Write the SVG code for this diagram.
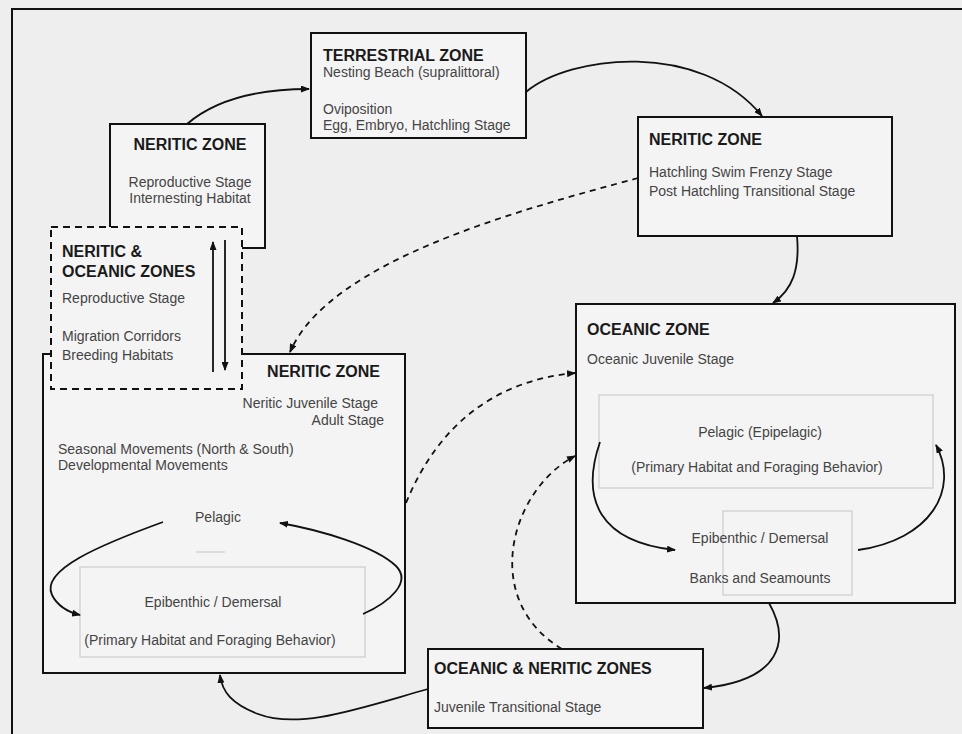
<svg xmlns="http://www.w3.org/2000/svg" width="962" height="734" viewBox="0 0 962 734">
<defs>
<marker id="ah" markerWidth="9" markerHeight="7" refX="8" refY="3.5" orient="auto" markerUnits="userSpaceOnUse">
<path d="M0,0 L9,3.5 L0,7 Z" fill="#111"/>
</marker>
<style>
.box{fill:#f4f4f4;stroke:#111;stroke-width:2}
.dbox{fill:#f4f4f4;stroke:#111;stroke-width:2;stroke-dasharray:7,5}
.faint{fill:none;stroke:#d0d0d0;stroke-width:1.3}
.t{font-family:"Liberation Sans",Arial,sans-serif;font-size:16px;font-weight:bold;fill:#1a1a1a}
.s{font-family:"Liberation Sans",Arial,sans-serif;font-size:14px;fill:#444}
.c{fill:none;stroke:#111;stroke-width:1.8}
.d{fill:none;stroke:#111;stroke-width:1.8;stroke-dasharray:6,5}
</style>
</defs>
<rect x="0" y="0" width="962" height="734" fill="#eeeeee"/>
<path d="M12,734 V9 H962" fill="none" stroke="#111" stroke-width="2"/>

<g id="terrestrial">
<rect class="box" x="311" y="33" width="215" height="105"/>
<text class="t" x="323" y="61">TERRESTRIAL ZONE</text>
<text class="s" x="323" y="77">Nesting Beach (supralittoral)</text>
<text class="s" x="323" y="114">Oviposition</text>
<text class="s" x="323" y="130">Egg, Embryo, Hatchling Stage</text>
</g>

<g id="neritic-top-right">
<rect class="box" x="638" y="117" width="254" height="119"/>
<text class="t" x="649" y="145">NERITIC ZONE</text>
<text class="s" x="649" y="177">Hatchling Swim Frenzy Stage</text>
<text class="s" x="649" y="196">Post Hatchling Transitional Stage</text>
</g>

<g id="neritic-reproductive">
<rect class="box" x="110" y="124" width="155" height="124"/>
<text class="t" x="190" y="150" text-anchor="middle">NERITIC ZONE</text>
<text class="s" x="190" y="187" text-anchor="middle">Reproductive Stage</text>
<text class="s" x="190" y="203" text-anchor="middle">Internesting Habitat</text>
</g>

<g id="neritic-juvenile">
<rect class="box" x="43" y="354" width="362" height="319"/>
<text class="t" x="380" y="377" text-anchor="end">NERITIC ZONE</text>
<text class="s" x="378" y="408" text-anchor="end">Neritic Juvenile Stage</text>
<text class="s" x="384" y="425" text-anchor="end">Adult Stage</text>
<text class="s" x="58" y="454">Seasonal Movements (North &amp; South)</text>
<text class="s" x="58" y="470">Developmental Movements</text>
<line class="faint" x1="196" y1="552" x2="225" y2="552"/>
<rect class="faint" x="80" y="567" width="285" height="90"/>
<text class="s" x="218" y="522" text-anchor="middle">Pelagic</text>
<text class="s" x="213" y="607" text-anchor="middle">Epibenthic / Demersal</text>
<text class="s" x="210" y="645" text-anchor="middle">(Primary Habitat and Foraging Behavior)</text>
<path class="c" d="M163,522 C100,545 40,570 52,595 C58,607 68,612 80,615" marker-end="url(#ah)"/>
<path class="c" d="M363,614 C390,602 412,582 396,566 C375,546 320,530 280,523" marker-end="url(#ah)"/>
</g>

<g id="neritic-oceanic-zones">
<rect class="dbox" x="51" y="227" width="191" height="162"/>
<text class="t" x="62" y="257">NERITIC &amp;</text>
<text class="t" x="62" y="277">OCEANIC ZONES</text>
<text class="s" x="62" y="303">Reproductive Stage</text>
<text class="s" x="62" y="341">Migration Corridors</text>
<text class="s" x="62" y="360">Breeding Habitats</text>
<line class="c" x1="213" y1="372" x2="213" y2="242" marker-end="url(#ah)"/>
<line class="c" x1="225" y1="240" x2="225" y2="370" marker-end="url(#ah)"/>
</g>

<g id="oceanic">
<rect class="box" x="576" y="304" width="379" height="299"/>
<text class="t" x="587" y="335">OCEANIC ZONE</text>
<text class="s" x="587" y="364">Oceanic Juvenile Stage</text>
<rect class="faint" x="599" y="395" width="334" height="93"/>
<rect class="faint" x="723" y="511" width="129" height="84"/>
<text class="s" x="760" y="437" text-anchor="middle">Pelagic (Epipelagic)</text>
<text class="s" x="757" y="472" text-anchor="middle">(Primary Habitat and Foraging Behavior)</text>
<text class="s" x="760" y="543" text-anchor="middle">Epibenthic / Demersal</text>
<text class="s" x="760" y="583" text-anchor="middle">Banks and Seamounts</text>
<path class="c" d="M600,442 C580,500 600,542 675,550" marker-end="url(#ah)"/>
<path class="c" d="M858,550 C930,540 960,490 936,445" marker-end="url(#ah)"/>
</g>

<g id="oceanic-neritic">
<rect class="box" x="428" y="649" width="275" height="79"/>
<text class="t" x="434" y="674">OCEANIC &amp; NERITIC ZONES</text>
<text class="s" x="434" y="712">Juvenile Transitional Stage</text>
</g>

<g id="connectors">
<path class="c" d="M187,124 C215,100 255,89 309,89" marker-end="url(#ah)"/>
<path class="c" d="M526,92 C570,55 700,40 762,116" marker-end="url(#ah)"/>
<path class="c" d="M797,236 C800,270 792,290 773,303" marker-end="url(#ah)"/>
<path class="c" d="M769,603 C790,640 782,680 704,688" marker-end="url(#ah)"/>
<path class="c" d="M428,689 C360,708 300,730 258,714 C232,704 222,692 220,675" marker-end="url(#ah)"/>
<path class="d" d="M638,178 C520,210 330,260 290,352" marker-end="url(#ah)"/>
<path class="d" d="M406,503 C440,420 500,380 575,373" marker-end="url(#ah)"/>
<path class="d" d="M562,649 C480,600 510,490 575,456" marker-end="url(#ah)"/>
</g>
</svg>
